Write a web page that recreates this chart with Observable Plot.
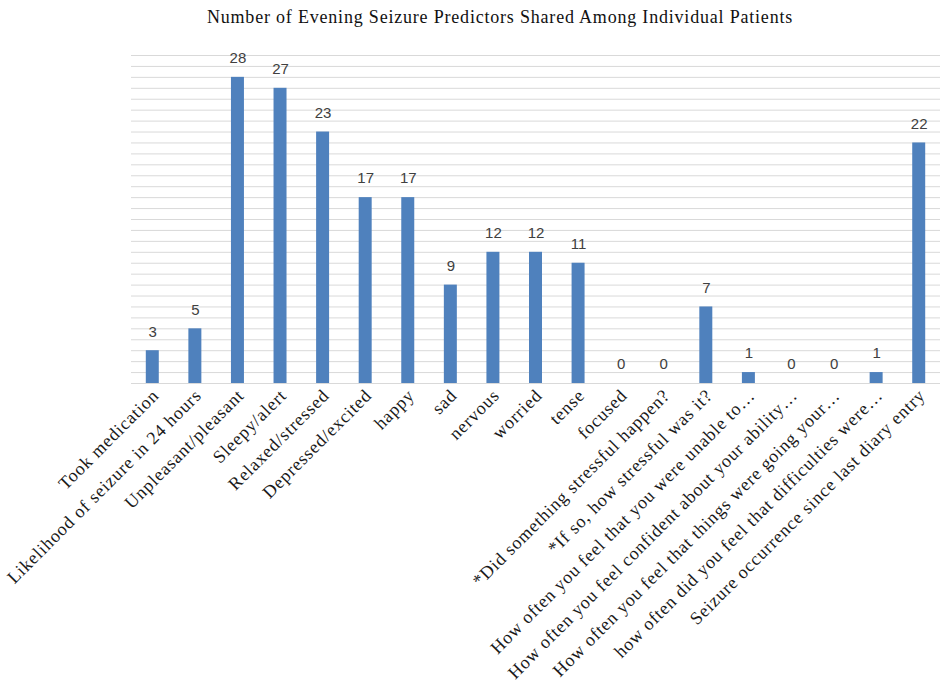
<!DOCTYPE html>
<html>
<head>
<meta charset="utf-8">
<script src="https://cdn.jsdelivr.net/npm/d3@7"></script>
<script src="https://cdn.jsdelivr.net/npm/@observablehq/plot@0.6"></script>
<style>
  body { margin: 0; background: #fff; }
  #title { height: 40px; box-sizing: border-box; padding-top: 7px; padding-left: 58px; text-align: center;
           font-family: "Liberation Serif", "Times New Roman", serif; font-size: 18px;
           letter-spacing: 0.8px; color: #111; }
  #chart svg g[aria-label="x-axis tick label"] text { letter-spacing: 0.8px; }
</style>
</head>
<body>
<div id="title">Number of Evening Seizure Predictors Shared Among Individual Patients</div>
<div id="chart"></div>
<script>
const labels = [
  "Took medication",
  "Likelihood of seizure in 24 hours",
  "Unpleasant/pleasant",
  "Sleepy/alert",
  "Relaxed/stressed",
  "Depressed/excited",
  "happy",
  "sad",
  "nervous",
  "worried",
  "tense",
  "focused",
  "*Did something stressful happen?",
  "*If so, how stressful was it?",
  "How often you feel that you were unable to…",
  "How often you feel confident about your ability…",
  "How often you feel that things were going your…",
  "how often did you feel that difficulties were…",
  "Seizure occurrence since last diary entry"
];
const counts = [3, 5, 28, 27, 23, 17, 17, 9, 12, 12, 11, 0, 0, 7, 1, 0, 0, 1, 22];
const gridValues = d3.range(0, 31);

const data = labels.map((c, i) => ({category: c, count: counts[i]}));

const chart = Plot.plot({
  width: 942,
  height: 646,
  marginTop: 15,
  marginBottom: 303,
  marginLeft: 131,
  marginRight: 2,
  style: {fontFamily: "Liberation Serif, serif", fontSize: "18px", color: "#1a1a1a"},
  x: {domain: labels, paddingInner: 0.695, paddingOuter: 0.3475, round: false, label: null, tickSize: 0, tickRotate: -45, tickPadding: 6},
  y: {domain: [0, 30], axis: null},
  marks: [
    Plot.ruleY(gridValues, {stroke: "#d9d9d9", strokeWidth: 1}),
    Plot.barY(data, {x: "category", y: "count", fill: "#4f81bd"}),
    Plot.axisX({tickSize: 0, tickRotate: -45, tickPadding: 6, dx: 3, dy: 3, label: null}),
    Plot.text(data, {x: "category", y: "count", text: d => String(d.count), dy: -19,
      fontFamily: "Liberation Sans, sans-serif", fontSize: 15, fill: "#404040"})
  ]
});
document.getElementById("chart").appendChild(chart);
</script>
</body>
</html>
